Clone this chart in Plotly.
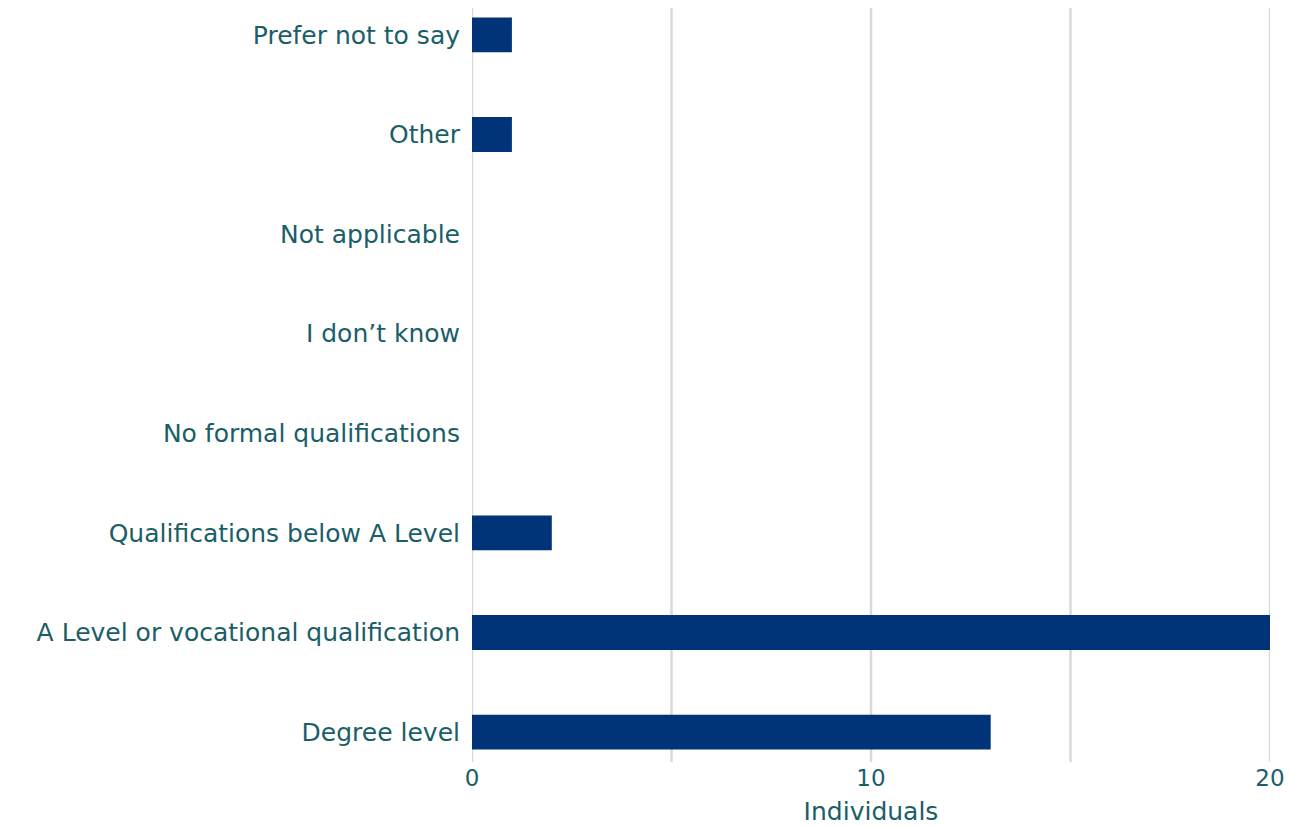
import plotly.graph_objects as go

categories = ["Degree level", "A Level or vocational qualification", "Qualifications below A Level",
              "No formal qualifications", "I don\u2019t know", "Not applicable", "Other", "Prefer not to say"]
values = [13, 20, 2, 0, 0, 0, 1, 1]
x_ticks = [0, 10, 20]

TEXT = "#1A5E68"
FONT = "DejaVu Sans"
FS = 25

fig = go.Figure(go.Bar(
    y=categories, x=values, orientation="h",
    marker=dict(color="#003377", line=dict(width=0)),
    width=0.35,
))

fig.update_layout(
    width=1290, height=827,
    margin=dict(l=472, r=20, t=8, b=65, autoexpand=False),
    paper_bgcolor="white", plot_bgcolor="white",
    showlegend=False,
    font=dict(family=FONT, color=TEXT, size=FS),
    xaxis=dict(range=[0, 20], tickvals=x_ticks, ticktext=[str(t) for t in x_ticks],
               showgrid=False, zeroline=False, ticks="", automargin=False,
               title=dict(text="Individuals", font=dict(size=FS, color=TEXT), standoff=12),
               tickfont=dict(size=23, color=TEXT)),
    yaxis=dict(range=[-0.30, 7.27], showgrid=False, zeroline=False, ticks="", automargin=False,
               tickfont=dict(size=FS, color=TEXT), ticklabelstandoff=11),
)

for g in [0, 5, 10, 15, 20]:
    fig.add_shape(type="line", xref="x", yref="paper", x0=g, x1=g, y0=0, y1=1,
                  line=dict(color="#D9D9D9", width=2.5), layer="below")

fig.write_html("out.html", config={"displayModeBar": False},
               post_script="document.body.style.margin='0';document.body.style.overflow='hidden';")
